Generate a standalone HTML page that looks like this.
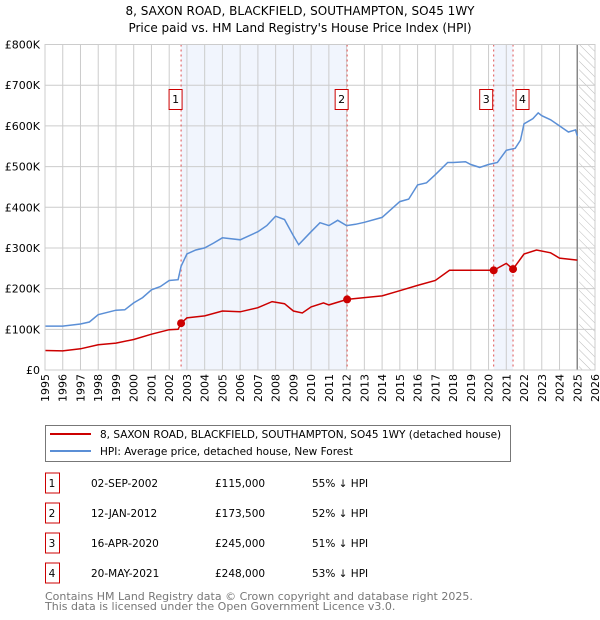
<!DOCTYPE html>
<html><head><meta charset="utf-8"><style>
body{margin:0;background:#fff;font-family:"DejaVu Sans","Liberation Sans",sans-serif;}
svg{display:block}
</style></head><body>
<svg id="chart" width="600" height="620" xmlns="http://www.w3.org/2000/svg">
<defs><pattern id="hatch" width="6" height="6" patternUnits="userSpaceOnUse" patternTransform="rotate(-45)"><line x1="0" y1="0" x2="0" y2="6" stroke="#bbb" stroke-width="1"/></pattern></defs>
<text x="300" y="15" text-anchor="middle" font-size="12" fill="#000">8, SAXON ROAD, BLACKFIELD, SOUTHAMPTON, SO45 1WY</text>
<text x="300" y="32" text-anchor="middle" font-size="12" fill="#000">Price paid vs. HM Land Registry's House Price Index (HPI)</text>
<g id="plot"></g>
<g>
<rect x="45.5" y="425.5" width="465" height="36" fill="#fff" stroke="#777"/>
<line x1="50" y1="434" x2="91" y2="434" stroke="#cc0000" stroke-width="2"/>
<text x="100" y="438" font-size="10.5">8, SAXON ROAD, BLACKFIELD, SOUTHAMPTON, SO45 1WY (detached house)</text>
<line x1="50" y1="451" x2="91" y2="451" stroke="#5b8fd6" stroke-width="2"/>
<text x="100" y="455" font-size="10.5">HPI: Average price, detached house, New Forest</text>
</g>
<g id="table" font-size="10.5"></g>
<text x="45" y="600" font-size="11" fill="#777">Contains HM Land Registry data © Crown copyright and database right 2025.</text>
<text x="45" y="610" font-size="11" fill="#777">This data is licensed under the Open Government Licence v3.0.</text>
</svg>
<script>
const hpiYears=[1995,1996,1997,1997.5,1998,1999,1999.5,2000,2000.5,2001,2001.5,2002,2002.5,2002.67,2003,2003.5,2004,2004.5,2005,2006,2007,2007.5,2008,2008.5,2009,2009.3,2010,2010.5,2011,2011.5,2012,2012.5,2013,2014,2015,2015.5,2016,2016.5,2017,2017.7,2018,2018.7,2019,2019.5,2020,2020.5,2021,2021.5,2021.8,2022,2022.5,2022.8,2023,2023.5,2024,2024.5,2024.9,2025];
const hpiValues=[108,108,113,118,136,147,148,165,178,197,205,220,222,255,285,295,300,312,325,320,340,355,378,370,330,308,340,362,355,368,355,358,363,375,414,420,455,460,480,510,510,512,505,498,505,510,540,545,565,605,618,632,625,615,600,585,590,575];
const ppYears=[1995,1996,1997,1998,1999,2000,2001,2002,2002.5,2002.67,2003,2004,2005,2006,2007,2007.8,2008.5,2009,2009.5,2010,2010.7,2011,2012.03,2013,2014,2015,2016,2017,2017.8,2019,2020.29,2021,2021.38,2022,2022.7,2023.5,2024,2025];
const ppValues=[48,47,52,62,66,75,88,99,100,115,128,133,145,143,153,168,163,145,140,155,165,160,173.5,178,182,195,208,220,245,245,245,262,248,285,295,288,275,270];
const saleLabels=["1","2","3","4"];
const saleYears=[2002.67,2012.03,2020.29,2021.38];
const saleValues=[115,173.5,245,248];
const saleDates=["02-SEP-2002","12-JAN-2012","16-APR-2020","20-MAY-2021"];
const salePrices=["£115,000","£173,500","£245,000","£248,000"];
const salePcts=["55% ↓ HPI","52% ↓ HPI","51% ↓ HPI","53% ↓ HPI"];
const yTicks=[0,100,200,300,400,500,600,700,800];
const yTickLabels=["£0","£100K","£200K","£300K","£400K","£500K","£600K","£700K","£800K"];
const xTicks=[];for(let y=1995;y<=2026;y++)xTicks.push(y);
const X0=45,X1=595,Y0=370,Y1=44.5;
const xs=v=>X0+(v-1995)/(2026-1995)*(X1-X0);
const ys=v=>Y0-v/800*(Y0-Y1);
const NS="http://www.w3.org/2000/svg";
const plot=document.getElementById('plot');
function mk(tag,attrs,parent){const e=document.createElementNS(NS,tag);for(const k in attrs)e.setAttribute(k,attrs[k]);(parent||plot).appendChild(e);return e;}
let e;
e=mk('rect',{x:xs(saleYears[0]),y:Y1,width:xs(saleYears[1])-xs(saleYears[0]),height:Y0-Y1,fill:'#f1f5fd'});


e=mk('rect',{x:xs(saleYears[2]),y:Y1,width:xs(saleYears[3])-xs(saleYears[2]),height:Y0-Y1,fill:'#f1f5fd'});


e=mk('rect',{x:xs(2025.1),y:Y1,width:X1-xs(2025.1),height:Y0-Y1,fill:'url(#hatch)'});


xTicks.forEach(t=>{
 e=mk('line',{x1:xs(t),x2:xs(t),y1:Y1,y2:Y0,stroke:'#ccc','stroke-width':1});
 
 
 e=mk('text',{x:0,y:0,'font-size':11,transform:`translate(${xs(t)+4},${Y0+4}) rotate(-90)`,'text-anchor':'end'});
 e.textContent=t;
 
 
});
yTicks.forEach((t,i)=>{
 e=mk('line',{x1:X0,x2:X1,y1:ys(t),y2:ys(t),stroke:'#ccc','stroke-width':1});
 
 
 e=mk('text',{x:X0-5,y:ys(t)+4,'font-size':11,'text-anchor':'end'});
 e.textContent=yTickLabels[i];
 
 
});
e=mk('line',{x1:xs(2025.0),x2:xs(2025.0),y1:Y1,y2:Y0,stroke:'#888','stroke-width':1.5});


saleYears.forEach((s,i)=>{
 e=mk('line',{x1:xs(s),x2:xs(s),y1:Y1,y2:Y0,stroke:'#e05050','stroke-width':1,'stroke-dasharray':'2,3'});
 
 
});
e=mk('path',{d:hpiYears.map((y,i)=>(i?'L':'M')+xs(y).toFixed(1)+','+ys(hpiValues[i]).toFixed(1)).join(''),fill:'none',stroke:'#5b8fd6','stroke-width':1.5});


e=mk('path',{d:ppYears.map((y,i)=>(i?'L':'M')+xs(y).toFixed(1)+','+ys(ppValues[i]).toFixed(1)).join(''),fill:'none',stroke:'#cc0000','stroke-width':1.5});


saleYears.forEach((s,i)=>{
 e=mk('circle',{cx:xs(s),cy:ys(saleValues[i]),r:4,fill:'#cc0000'});
 
 
 const bx=xs(s)+(i===2?-14:(i===3?3:-12));
 const g=mk('g',{});
 
 
 mk('rect',{x:bx,y:89.5,width:13,height:20,fill:'#fff',stroke:'#cc0000'},g);
 const tx=mk('text',{x:bx+6.5,y:103,'font-size':11,'text-anchor':'middle'},g);
 tx.textContent=saleLabels[i];
});
mk('rect',{x:X0,y:Y1,width:X1-X0,height:Y0-Y1,fill:'none',stroke:'#ccc'});
const table=document.getElementById('table');
saleLabels.forEach((l,i)=>{
 const cy=483+i*30;
 e=mk('rect',{x:45.5,y:cy-10,width:14,height:20,fill:'#fff',stroke:'#cc0000'},table);
 
 
 const cells=[[52,l,'middle'],[91,saleDates[i],'start'],[215,salePrices[i],'start'],[312,salePcts[i],'start']];
 cells.forEach(c=>{
  e=mk('text',{x:c[0],y:cy+4,'text-anchor':c[2]},table);
  e.textContent=c[1];
  
  
 });
});
</script>
</body></html>
